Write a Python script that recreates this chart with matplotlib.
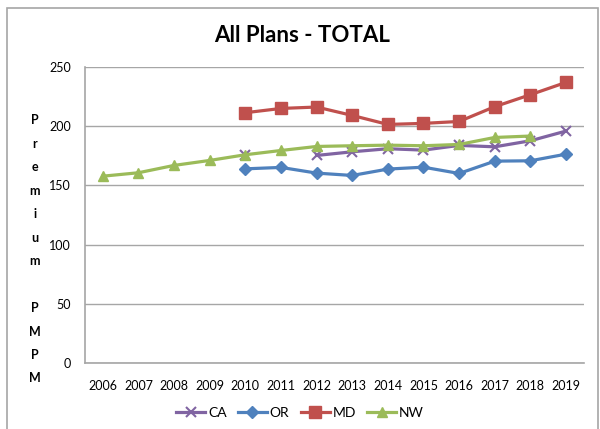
import numpy as np
import matplotlib
matplotlib.use("Agg")
import matplotlib.pyplot as plt
from matplotlib.patches import Rectangle

plt.rcParams['font.family'] = ['Lato', 'DejaVu Sans']

# 数据
years = ['2006', '2007', '2008', '2009', '2010', '2011', '2012',
         '2013', '2014', '2015', '2016', '2017', '2018', '2019']
nan = np.nan
ca = [nan, nan, nan, nan, 176.0, nan, 175.3, 178.4, 181.0, 179.8, 183.8, 182.6, 187.7, 195.9]
orr = [nan, nan, nan, nan, 164.0, 165.2, 160.4, 158.4, 163.8, 165.4, 160.1, 170.5, 170.8, 176.4]
md = [nan, nan, nan, nan, 211.4, 215.0, 216.2, 209.1, 201.5, 202.4, 204.0, 216.5, 226.6, 237.0]
nw = [157.8, 160.7, 166.9, 171.1, 175.9, 179.5, 182.9, 183.5, 184.0, 183.5, 184.6, 190.5, 191.7, nan]

x = np.arange(len(years))

fig = plt.figure(figsize=(6, 4.29), dpi=100)
ax = fig.add_axes([0.1417, 0.1538, 0.8313, 0.69])

ax.plot(x, ca, color='#8064A2', lw=2.3, marker='x', ms=7, mew=1.5, label='CA')
ax.plot(x, orr, color='#4F81BD', lw=2.3, marker='D', ms=6, label='OR')
ax.plot(x, md, color='#C0504D', lw=2.3, marker='s', ms=8, label='MD')
ax.plot(x, nw, color='#9BBB59', lw=2.3, marker='^', ms=7.5, label='NW')

ax.set_xlim(-0.5, 13.5)
ax.set_ylim(0, 250)
ax.set_yticks(np.arange(0, 251, 50))
ax.set_xticks(x)
ax.set_xticklabels(years)
ax.tick_params(length=0, labelsize=9, pad=12)
ax.tick_params(axis='y', pad=10)
ax.yaxis.grid(True, color='#A6A6A6', lw=1)
ax.set_axisbelow(True)
for s in ['top', 'right']:
    ax.spines[s].set_visible(False)
for s in ['left', 'bottom']:
    ax.spines[s].set_color('#A6A6A6')
    ax.spines[s].set_linewidth(1.2)

fig.text(0.503, 0.918, 'All Plans - TOTAL', ha='center', va='center',
         fontsize=16, fontweight='bold')

# 竖排的y轴标签
label = 'Premium PMPM'
y0 = 1 - 120 / 429
for i, ch in enumerate(label):
    if ch != ' ':
        fig.text(35 / 600, y0 - i * 23.5 / 429, ch, ha='center', va='center',
                 fontsize=9, fontweight='bold')

fig.legend(loc='center', bbox_to_anchor=(0.5, 1 - 413 / 429), ncol=4,
           frameon=False, fontsize=10, handlelength=2.1, handletextpad=0.2,
           columnspacing=0.8)

fig.patches.append(Rectangle((7 / 600, -0.05), 591 / 600, 1.05 - 8 / 429,
                             transform=fig.transFigure, fill=False,
                             edgecolor='#A6A6A6', lw=1.2))

plt.savefig('out.png', dpi=100)
